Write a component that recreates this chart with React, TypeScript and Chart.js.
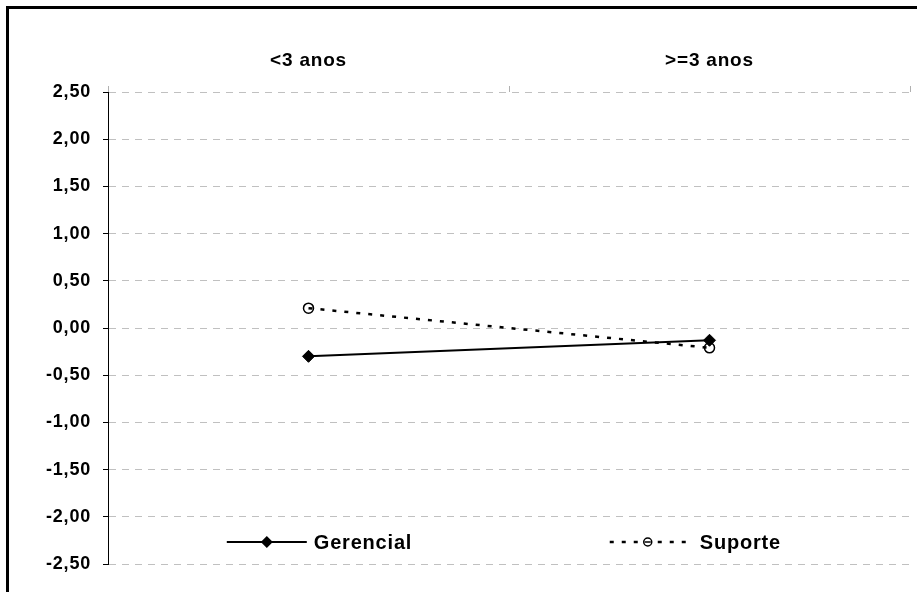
import React, { useEffect, useRef } from "react";
import { Chart, registerables } from "chart.js";

Chart.register(...registerables);

const categories = ["<3 anos", ">=3 anos"];
const seriesNames = ["Gerencial", "Suporte"];
const gerencial = [-0.3, -0.13];
const suporte = [0.21, -0.21];
const yMin = -2.5;
const yMax = 2.5;
const yStep = 0.5;

const FONT = "'Liberation Sans', Arial, sans-serif";
const LETTER_SPACING = "0.8px";

const setSpacing = (chart: any) => {
  try {
    chart.ctx.letterSpacing = LETTER_SPACING;
  } catch (e) {}
};

const pagePlugin = {
  id: "pageDecor",
  beforeLayout(chart: any) {
    setSpacing(chart);
  },
  beforeDraw(chart: any) {
    const ctx = chart.ctx;
    setSpacing(chart);
    ctx.save();
    ctx.fillStyle = "#ffffff";
    ctx.fillRect(0, 0, chart.width, chart.height);
    ctx.restore();
  },
  afterDraw(chart: any) {
    const ctx = chart.ctx;
    const ca = chart.chartArea;
    const y = ca.bottom - 22;
    const items = [
      { idx: 0, frac: 0.198, half: 40, textOff: 47, marker: "diamond" },
      { idx: 1, frac: 0.673, half: 38, textOff: 52, marker: "circle" },
    ];
    items.forEach((it) => {
      const ds = chart.data.datasets[it.idx];
      const mx = ca.left + it.frac * ca.width;
      ctx.save();
      ctx.strokeStyle = ds.borderColor;
      ctx.lineWidth = ds.borderWidth;
      ctx.setLineDash(ds.borderDash || []);
      ctx.beginPath();
      ctx.moveTo(mx - it.half, y);
      ctx.lineTo(mx + it.half, y);
      ctx.stroke();
      ctx.setLineDash([]);
      if (it.marker === "diamond") {
        const r = 6;
        ctx.fillStyle = "#000";
        ctx.beginPath();
        ctx.moveTo(mx, y - r);
        ctx.lineTo(mx + r, y);
        ctx.lineTo(mx, y + r);
        ctx.lineTo(mx - r, y);
        ctx.closePath();
        ctx.fill();
      } else {
        ctx.fillStyle = "#fff";
        ctx.lineWidth = 1.5;
        ctx.beginPath();
        ctx.arc(mx, y, 4, 0, Math.PI * 2);
        ctx.fill();
        ctx.stroke();
        ctx.beginPath();
        ctx.moveTo(mx - 3, y);
        ctx.lineTo(mx + 3, y);
        ctx.stroke();
      }
      ctx.fillStyle = "#000";
      ctx.font = `bold 20px ${FONT}`;
      ctx.textAlign = "left";
      ctx.textBaseline = "middle";
      ctx.fillText(seriesNames[it.idx], mx + it.textOff, y + 1);
      ctx.restore();
    });
    // outer frame
    ctx.save();
    ctx.strokeStyle = "#000";
    ctx.lineWidth = 3;
    ctx.strokeRect(7.5, 7.5, chart.width + 40, chart.height + 40);
    ctx.restore();
  },
};

export default function App() {
  const ref = useRef<HTMLCanvasElement | null>(null);

  useEffect(() => {
    if (!ref.current) return;
    const chart = new Chart(ref.current, {
      type: "line",
      data: {
        labels: categories,
        datasets: [
          {
            label: seriesNames[0],
            data: gerencial,
            borderColor: "#000000",
            backgroundColor: "#000000",
            borderWidth: 2,
            pointStyle: "rectRot",
            pointRadius: 6,
            pointBackgroundColor: "#000000",
            pointBorderColor: "#000000",
            pointBorderWidth: 1,
            tension: 0,
          },
          {
            label: seriesNames[1],
            data: suporte,
            borderColor: "#000000",
            backgroundColor: "rgba(0,0,0,0)",
            borderWidth: 2.5,
            borderDash: [4, 8],
            pointStyle: "circle",
            pointRadius: 5,
            pointBackgroundColor: "rgba(0,0,0,0)",
            pointBorderColor: "#000000",
            pointBorderWidth: 1.5,
            tension: 0,
          },
        ],
      },
      options: {
        animation: false,
        responsive: false,
        maintainAspectRatio: false,
        events: [],
        layout: { padding: { left: 0, right: 1, top: 0, bottom: 28 } },
        plugins: {
          legend: { display: false },
          tooltip: { enabled: false },
          title: { display: false },
        },
        scales: {
          x: {
            type: "category",
            position: "top",
            offset: true,
            afterFit: (s: any) => {
              s.height = 92;
            },
            grid: {
              display: true,
              drawOnChartArea: false,
              drawTicks: true,
              offset: true,
              tickLength: 6,
              color: "#b0b0b0",
              tickColor: "#b0b0b0",
            },
            border: { display: false },
            ticks: {
              color: "#000",
              padding: 14,
              font: { family: FONT, size: 19, weight: "bold" },
              maxRotation: 0,
            },
          },
          y: {
            type: "linear",
            position: "left",
            min: yMin,
            max: yMax,
            afterFit: (s: any) => {
              s.width = 108;
            },
            grid: {
              display: true,
              color: "#c0c0c0",
              lineWidth: 1,
              drawTicks: true,
              tickLength: 5,
              tickColor: "#000000",
              tickBorderDash: [],
            },
            border: { display: true, color: "#000000", width: 1, dash: [7, 6] },
            ticks: {
              stepSize: yStep,
              color: "#000",
              padding: 12,
              font: { family: FONT, size: 18, weight: "bold" },
              callback: (v: any) => Number(v).toFixed(2).replace(".", ","),
            },
          },
        },
      },
      plugins: [pagePlugin],
    } as any);
    return () => chart.destroy();
  }, []);

  return (
    <div style={{ position: "fixed", left: 0, top: 0, width: 917, height: 592, background: "#fff" }}>
      <canvas ref={ref} width={917} height={592} style={{ display: "block", width: 917, height: 592 }} />
    </div>
  );
}
